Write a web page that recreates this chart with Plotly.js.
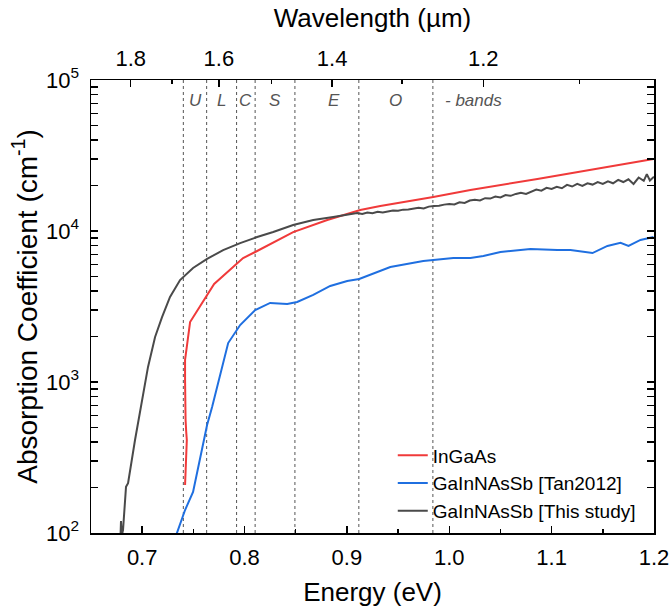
<!DOCTYPE html>
<html>
<head>
<meta charset="utf-8">
<script src="https://cdn.plot.ly/plotly-3.0.1.min.js"></script>
<style>html,body{margin:0;padding:0;background:#fff;} #chart{width:672px;height:609px;}</style>
</head>
<body>
<div id="chart"></div>
<script>
// ---- data ----
const seriesNames = ["InGaAs", "GaInNAsSb [Tan2012]", "GaInNAsSb [This study]"];

const ingaasE = [0.7419,0.7429,0.7436,0.7430,0.7424,0.7419,0.7419,0.7468,0.7703,0.7986,0.8104,0.8475,0.8808,0.9130,0.9326,0.9844,1.0206,1.0861,1.1506,1.1995];
const ingaasA = [208,304,413,470,560,1030,1400,2495,4457,6620,7260,9840,11830,13780,14650,16800,18700,22080,26120,30000];

const tanE = [0.7335,0.7419,0.7497,0.7546,0.7585,0.7634,0.7683,0.7732,0.7781,0.7840,0.7957,0.8104,0.8250,0.8417,0.8514,0.8671,0.8837,0.9003,0.9120,0.9326,0.9424,0.9746,0.9844,1.0040,1.0206,1.0333,1.0500,1.0793,1.1056,1.1184,1.1399,1.1545,1.1673,1.1751,1.1868,1.1995];
const tanA = [98,142,187,274,371,519,683,927,1257,1811,2384,2998,3337,3287,3390,3770,4325,4670,4810,5430,5780,6330,6430,6630,6630,6830,7260,7600,7480,7480,7140,7960,8340,7960,8720,9120];

const studyE = [0.6785,0.6793,0.6800,0.6813,0.6842,0.6862,0.6930,0.6999,0.7057,0.7126,0.7194,0.7272,0.7370,0.7497,0.7634,0.7791,0.7957,0.8123,0.8280,0.8475,0.8671,0.8866,
  0.900,0.910,0.915,0.920,0.925,0.930,0.935,0.940,0.945,0.950,0.955,0.960,0.965,0.970,0.975,0.980,0.985,0.990,0.995,
  1.000,1.005,1.010,1.015,1.020,1.025,1.030,1.035,1.040,1.045,1.050,1.055,1.060,1.065,1.070,1.075,1.080,1.085,1.090,1.095,
  1.100,1.105,1.110,1.115,1.120,1.125,1.130,1.135,1.140,1.145,1.150,1.155,1.160,1.165,1.170,1.175,1.180,1.185,1.190,1.193,1.196,1.200];
const studyA = [80,120,95,105,202,214,413,760,1259,1986,2692,3656,4732,5690,6530,7480,8320,9120,9840,10960,11830,12390,
  12800,13150,12950,13250,13100,13400,13250,13500,13650,13600,13850,13900,14000,14250,14100,14500,14650,14700,14950,
  15100,15000,15500,15350,15900,16100,15950,16500,16400,16900,16700,17300,17100,17600,17900,17600,18300,18800,18500,19300,
  19000,19600,19200,20200,19700,20500,19900,20700,20300,21100,20500,21300,20700,21800,21100,22000,20500,22600,21500,23800,21600,22900];

// telecom band edges (nm) and labels
const bandEdgesNm = [1675, 1625, 1565, 1530, 1460, 1360, 1260];
const bandLabels = ["U", "L", "C", "S", "E", "O", "- bands"];
const bandLabelE = [0.7516, 0.7776, 0.8013, 0.8297, 0.8870, 0.9478, 0.9942];

// axis ticks
const yTickVals = [100, 1000, 10000, 100000];
const yTickText = ["10<sup>2</sup>", "10<sup>3</sup>", "10<sup>4</sup>", "10<sup>5</sup>"];
const yMinor = [200,300,400,500,600,700,800,900,2000,3000,4000,5000,6000,7000,8000,9000,20000,30000,40000,50000,60000,70000,80000,90000];
const wlMajor = [1.8, 1.6, 1.4, 1.2];
const wlMinor = [1.7, 1.5, 1.3, 1.1];

const HC = 1.23984; // eV·µm
const colors = ["#f03a3a", "#1f6fe0", "#4a4a4a"];
const FONT = "Liberation Sans, Arial, Helvetica, sans-serif";

const traces = [
  {x: ingaasE, y: ingaasA, name: seriesNames[0], mode: "lines", line: {color: colors[0], width: 2}},
  {x: tanE, y: tanA, name: seriesNames[1], mode: "lines", line: {color: colors[1], width: 2}},
  {x: studyE, y: studyA, name: seriesNames[2], mode: "lines", line: {color: colors[2], width: 2}},
  {x: [0.65, 1.2], y: [null, null], xaxis: "x2", yaxis: "y", showlegend: false, hoverinfo: "skip", mode: "lines"}
];

const shapes = bandEdgesNm.map(nm => ({
  type: "line", xref: "x", yref: "paper", x0: 1239.84 / nm, x1: 1239.84 / nm, y0: 0, y1: 1,
  line: {color: "#555", width: 1, dash: "3px,3px"}, layer: "below"
}));

const annotations = bandLabels.map((t, i) => ({
  x: bandLabelE[i], xref: "x", y: 0.954, yref: "paper", text: "<i>" + t + "</i>", showarrow: false,
  xanchor: i === bandLabels.length - 1 ? "left" : "center", yanchor: "middle",
  font: {family: FONT, size: 17, color: "#555"}
}));

const layout = {
  width: 672, height: 609,
  margin: {l: 91, r: 18, t: 80, b: 76},
  paper_bgcolor: "#fff", plot_bgcolor: "#fff",
  font: {family: FONT, color: "#000"},
  showlegend: true,
  legend: {x: 0.536, y: 0.213, xanchor: "left", yanchor: "top", bgcolor: "rgba(0,0,0,0)",
           font: {family: FONT, size: 19, color: "#000"}, tracegroupgap: 0},
  xaxis: {
    range: [0.65, 1.2], dtick: 0.1, tick0: 0.7, tickformat: ".1f",
    ticks: "inside", ticklen: 7, tickwidth: 1.5, tickcolor: "#000",
    showline: true, linecolor: "#000", linewidth: 1.5, mirror: false,
    showgrid: false, zeroline: false,
    tickfont: {size: 22, family: FONT}, ticklabelstandoff: 4,
    minor: {dtick: 0.05, tick0: 0.65, ticks: "inside", ticklen: 4, tickwidth: 1.5, tickcolor: "#000", showgrid: false},
    title: {text: "Energy (eV)", font: {size: 26, family: FONT}, standoff: 14}
  },
  xaxis2: {
    overlaying: "x", side: "top", range: [0.65, 1.2], anchor: "y",
    tickmode: "array", tickvals: wlMajor.map(w => HC / w), ticktext: wlMajor.map(w => w.toFixed(1)),
    ticks: "inside", ticklen: 7, tickwidth: 1.5, tickcolor: "#000",
    showline: true, linecolor: "#000", linewidth: 1.5,
    showgrid: false, zeroline: false,
    tickfont: {size: 22, family: FONT}, ticklabelstandoff: 4,
    minor: {tickmode: "array", tickvals: wlMinor.map(w => HC / w), ticks: "inside", ticklen: 4, tickwidth: 1.5, tickcolor: "#000", showgrid: false},
    title: {text: "Wavelength (\u00b5m)", font: {size: 26, family: FONT}, standoff: 10}
  },
  yaxis: {
    type: "log", range: [2, 5],
    tickmode: "array", tickvals: yTickVals, ticktext: yTickText,
    ticks: "inside", ticklen: 7, tickwidth: 1.5, tickcolor: "#000",
    showline: true, linecolor: "#000", linewidth: 1.5, mirror: "allticks",
    showgrid: false, zeroline: false,
    tickfont: {size: 22, family: FONT}, ticklabelstandoff: 6,
    minor: {tickmode: "array", tickvals: yMinor, ticks: "inside", ticklen: 4, tickwidth: 1.5, tickcolor: "#000", showgrid: false},
    title: {text: "Absorption Coefficient (cm<sup>-1</sup>)", font: {size: 28, family: FONT}, standoff: 0}
  },
  shapes: shapes,
  annotations: annotations
};

Plotly.newPlot("chart", traces, layout, {displayModeBar: false, staticPlot: true});
</script>
</body>
</html>
